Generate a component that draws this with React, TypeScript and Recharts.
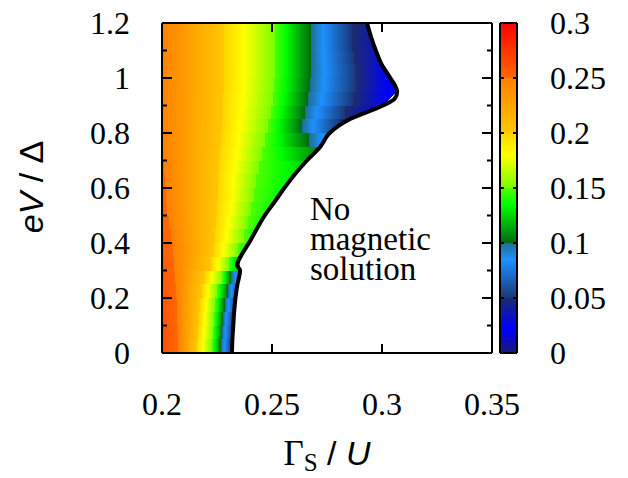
import {
  Area,
  Bar,
  BarChart,
  ComposedChart,
  Line,
  ReferenceLine,
  XAxis,
  YAxis,
} from 'recharts'

// eV/Δ strips of the colour map: strip k runs from rowEdges[k] to rowEdges[k + 1]
const rowEdges = [
  0, 0.05, 0.1, 0.15, 0.2, 0.25, 0.3, 0.35, 0.4, 0.45, 0.5, 0.55, 0.6, 0.65,
  0.7, 0.75, 0.8, 0.85, 0.9, 0.95, 1, 1.05, 1.1, 1.15, 1.2,
]

// per strip (bottom to top): value at Γ=0.2, Γ where a level is crossed, value at the boundary
const rowLeftValue = [
  0.262, 0.262, 0.261, 0.26, 0.259, 0.258, 0.257, 0.256, 0.255, 0.254, 0.253,
  0.252, 0.251, 0.2505, 0.2502, 0.2501, 0.249, 0.249, 0.249, 0.249, 0.249,
  0.249, 0.249, 0.249,
]
const rowCross25 = [
  0.2073, 0.2073, 0.207, 0.2068, 0.2064, 0.206, 0.2055, 0.205, 0.2041, 0.2032,
  0.2023, 0.2018, 0.2014, 0.2009, 0.2005, 0.2002, null, null, null, null, null,
  null, null, null,
]
const rowCross20 = [
  0.2159, 0.2164, 0.2168, 0.2173, 0.2182, 0.2195, 0.2223, 0.2236, 0.2241,
  0.2245, 0.225, 0.2255, 0.2255, 0.2259, 0.2264, 0.2268, 0.2273, 0.2277, 0.2277,
  0.2282, 0.2282, 0.2282, 0.2282, 0.2282,
]
const rowCross15 = [
  0.2227, 0.2232, 0.2236, 0.2241, 0.225, 0.2273, 0.2305, 0.2345, 0.2373,
  0.2391, 0.2405, 0.2418, 0.2427, 0.2441, 0.2455, 0.2468, 0.2482, 0.2495,
  0.2505, 0.2509, 0.2514, 0.2514, 0.2514, 0.2514,
]
const rowCross10 = [
  0.2268, 0.2273, 0.2277, 0.2286, 0.23, 0.2314, null, null, null, null, null,
  null, null, null, null, 0.2668, 0.2636, 0.265, 0.2664, 0.2673, 0.2677, 0.2677,
  0.2677, 0.2677,
]
const rowCross05 = [
  null, null, null, null, null, null, null, null, null, null, null, null, null,
  null, null, null, 0.2809, 0.2832, 0.2868, 0.2882, 0.2882, 0.2873, 0.2864,
  0.2864,
]
const rowEdgeValue = [
  0.05, 0.05, 0.05, 0.055, 0.06, 0.07, 0.11, 0.135, 0.14, 0.138, 0.136, 0.134,
  0.13, 0.122, 0.104, 0.075, 0.04, 0.025, 0.015, 0.015, 0.02, 0.03, 0.035, 0.04,
]

// edge of the magnetic solution
const boundaryY = [
  0, 0.05, 0.1, 0.15, 0.2, 0.25, 0.3, 0.32, 0.35, 0.4, 0.45, 0.5, 0.55, 0.6,
  0.65, 0.7, 0.75, 0.8, 0.85, 0.9, 0.925, 0.95, 0.975, 1, 1.05, 1.1, 1.15, 1.2,
]
const boundaryX = [
  0.2318, 0.232, 0.2324, 0.2328, 0.2334, 0.2343, 0.2355, 0.2341, 0.2357,
  0.2395, 0.243, 0.2467, 0.2512, 0.2556, 0.2604, 0.2659, 0.272, 0.2762, 0.2853,
  0.3004, 0.3058, 0.3069, 0.3058, 0.3038, 0.2998, 0.2972, 0.295, 0.2932,
]

const xTicks = [0.2, 0.25, 0.3, 0.35]
const xInnerTicks = [0.25, 0.3]
const yTicks = [0, 0.2, 0.4, 0.6, 0.8, 1, 1.2]
const yInnerTicks = [0.1, 0.2, 0.3, 0.4, 0.5, 0.6, 0.7, 0.8, 0.9, 1, 1.1]
const cbTicks = [0, 0.05, 0.1, 0.15, 0.2, 0.25, 0.3]
const cbInnerTicks = [0.05, 0.1, 0.15, 0.2, 0.25]
const cbSegments = [0.05, 0.05, 0.05, 0.05, 0.05, 0.05]

// palette, one piece per 0.05 band
const COLORMAP: [number, string][][] = [
  [[0, '#1a1a78'], [0.022, '#0000ff'], [0.05, '#1c2c6c']],
  [[0.05, '#18387a'], [0.085, '#1e90ff'], [0.1, '#1f6f8f']],
  [[0.1, '#006a10'], [0.135, '#00ff00'], [0.15, '#50ff00']],
  [[0.15, '#78ff00'], [0.18, '#ffff00'], [0.2, '#ffd400']],
  [[0.2, '#ffc800'], [0.25, '#ff8000']],
  [[0.25, '#ff6800'], [0.3, '#ff0000']],
]

const SERIF = '"Liberation Serif", "Times New Roman", Times, "DejaVu Serif", serif'
const SANS = '"Liberation Sans", Arial, "DejaVu Sans", sans-serif'
const FRAME = { stroke: '#000', strokeWidth: 2 }

function hexRgb(h: string) {
  return [1, 3, 5].map((i) => parseInt(h.slice(i, i + 2), 16))
}

function segColor(s: number, v: number): string {
  const st = COLORMAP[s]
  for (let i = 0; i < st.length - 1; i++) {
    const [va, ca] = st[i]
    const [vb, cb] = st[i + 1]
    if (v <= vb || i === st.length - 2) {
      const t = Math.max(0, Math.min(1, (v - va) / (vb - va)))
      const a = hexRgb(ca)
      const b = hexRgb(cb)
      const c = a.map((x, j) => Math.round(x + (b[j] - x) * t))
      return `rgb(${c[0]},${c[1]},${c[2]})`
    }
  }
  return st[0][1]
}

function boundaryAt(y: number) {
  return boundaryX[boundaryY.findIndex((v) => Math.abs(v - y) < 1e-6)]
}

function rowStops(k: number) {
  const xmax = Math.max(boundaryAt(rowEdges[k]), boundaryAt(rowEdges[k + 1]))
  const off = (x: number) => Math.max(0, Math.min(1, (x - 0.2) / (xmax - 0.2)))
  const anchors: [number, number][] = [[0.2, rowLeftValue[k]]]
  const crossings: [(number | null)[], number][] = [
    [rowCross25, 0.25],
    [rowCross20, 0.2],
    [rowCross15, 0.15],
    [rowCross10, 0.1],
    [rowCross05, 0.05],
  ]
  crossings.forEach(([arr, level]) => {
    const x = arr[k]
    if (x != null) anchors.push([x, level])
  })
  anchors.push([xmax, rowEdgeValue[k]])

  const stops: { o: number; c: string }[] = []
  for (let i = 0; i < anchors.length - 1; i++) {
    const [xa, va] = anchors[i]
    const [xb, vb] = anchors[i + 1]
    const s = Math.min(5, Math.floor((va + vb) / 2 / 0.05))
    stops.push({ o: off(xa), c: segColor(s, va) })
    COLORMAP[s].forEach(([v, c]) => {
      if (v < va && v > vb) {
        stops.push({ o: off(xa + ((va - v) / (va - vb)) * (xb - xa)), c })
      }
    })
    stops.push({ o: off(xb), c: segColor(s, vb) })
  }
  return stops
}

const chartData = boundaryY.map((y, i) => {
  const point: Record<string, number | null> = { y, b: boundaryX[i] }
  for (let k = 0; k < rowEdges.length - 1; k++) {
    const onEdge =
      Math.abs(y - rowEdges[k]) < 1e-6 || Math.abs(y - rowEdges[k + 1]) < 1e-6
    point[`r${k}`] = onEdge ? boundaryX[i] : null
  }
  return point
})

const colorbarData = [
  cbSegments.reduce<Record<string, number | string>>(
    (acc, v, i) => ({ ...acc, [`s${i}`]: v }),
    { name: 'cb' }
  ),
]

interface TickProps {
  x?: number | string
  y?: number | string
  payload?: { value: number }
}

const isMajor = (v: number) => Math.round(v * 10) % 2 === 0

function LeftInnerTick({ x, y, payload }: TickProps) {
  const len = payload && isMajor(payload.value) ? 10 : 5
  return <line x1={Number(x)} x2={Number(x) + len} y1={Number(y)} y2={Number(y)} {...FRAME} />
}

function RightInnerTick({ x, y, payload }: TickProps) {
  const len = payload && isMajor(payload.value) ? 10 : 5
  return <line x1={Number(x)} x2={Number(x) - len} y1={Number(y)} y2={Number(y)} {...FRAME} />
}

function TopInnerTick({ x, y }: TickProps) {
  return <line x1={Number(x)} x2={Number(x)} y1={Number(y)} y2={Number(y) + 9} {...FRAME} />
}

function BottomInnerTick({ x, y }: TickProps) {
  return <line x1={Number(x)} x2={Number(x)} y1={Number(y)} y2={Number(y) - 9} {...FRAME} />
}

function CbLeftTick({ x, y }: TickProps) {
  return <line x1={Number(x)} x2={Number(x) + 4} y1={Number(y)} y2={Number(y)} {...FRAME} />
}

function CbRightTick({ x, y }: TickProps) {
  return <line x1={Number(x)} x2={Number(x) - 4} y1={Number(y)} y2={Number(y)} {...FRAME} />
}

const tickFont = { fill: '#000', fontSize: 32, fontFamily: SERIF }
const layer = { position: 'absolute' as const, left: 0, top: 0 }

export default function App() {
  const rows = rowEdges.slice(0, -1).map((_, k) => k)
  return (
    <div style={{ position: 'absolute', left: 0, top: 0, width: 628, height: 478, background: '#fff' }}>
      <style>
        {`.recharts-area-area { shape-rendering: crispEdges; } .recharts-cartesian-axis-tick-value, .serif { font-family: ${SERIF}; }`}
      </style>
      <div style={layer}>
        <ComposedChart
          width={628}
          height={478}
          data={chartData}
          layout='vertical'
          margin={{ top: 23, right: 136, bottom: 65, left: 0 }}
        >
          <defs>
            {rows.map((k) => (
              <linearGradient key={k} id={`row${k}`} x1='0' y1='0' x2='1' y2='0'>
                {rowStops(k).map((s, i) => (
                  <stop key={i} offset={s.o} stopColor={s.c} />
                ))}
              </linearGradient>
            ))}
          </defs>
          {rows.map((k) => (
            <Area
              key={k}
              dataKey={`r${k}`}
              type='linear'
              connectNulls
              stroke='none'
              fill={`url(#row${k})`}
              fillOpacity={1}
              dot={false}
              activeDot={false}
              isAnimationActive={false}
            />
          ))}
          <Line
            dataKey='b'
            type='monotone'
            stroke='#000'
            strokeWidth={4}
            strokeLinejoin='round'
            dot={false}
            activeDot={false}
            isAnimationActive={false}
          />
          <XAxis
            type='number'
            domain={[0.2, 0.35]}
            ticks={xTicks}
            allowDataOverflow
            tickLine={false}
            axisLine={FRAME}
            tickSize={0}
            tickMargin={39}
            height={60}
            tick={tickFont}
          />
          <XAxis
            xAxisId='xb'
            type='number'
            domain={[0.2, 0.35]}
            ticks={xInnerTicks}
            allowDataOverflow
            mirror
            tickLine={false}
            axisLine={false}
            tickSize={0}
            tickMargin={0}
            tick={BottomInnerTick}
          />
          <XAxis
            xAxisId='xt'
            orientation='top'
            type='number'
            domain={[0.2, 0.35]}
            ticks={xInnerTicks}
            allowDataOverflow
            mirror
            tickLine={false}
            axisLine={FRAME}
            tickSize={0}
            tickMargin={0}
            tick={TopInnerTick}
          />
          <YAxis
            type='number'
            dataKey='y'
            domain={[0, 1.2]}
            reversed
            ticks={yTicks}
            allowDataOverflow
            width={162}
            tickLine={false}
            axisLine={FRAME}
            tickSize={0}
            tickMargin={32}
            tick={tickFont}
          />
          <YAxis
            yAxisId='yl'
            type='number'
            dataKey='y'
            domain={[0, 1.2]}
            reversed
            ticks={yInnerTicks}
            allowDataOverflow
            mirror
            tickLine={false}
            axisLine={false}
            tickSize={0}
            tickMargin={0}
            tick={LeftInnerTick}
          />
          <YAxis
            yAxisId='yr'
            orientation='right'
            type='number'
            dataKey='y'
            domain={[0, 1.2]}
            reversed
            ticks={yInnerTicks}
            allowDataOverflow
            mirror
            tickLine={false}
            axisLine={FRAME}
            tickSize={0}
            tickMargin={0}
            tick={RightInnerTick}
          />
        </ComposedChart>
      </div>

      <div style={layer}>
        <BarChart
          width={628}
          height={478}
          data={colorbarData}
          barCategoryGap={0}
          barGap={0}
          margin={{ top: 23, right: 0, bottom: 125, left: 500 }}
        >
          <defs>
            {COLORMAP.map((seg, s) => (
              <linearGradient key={s} id={`cb${s}`} x1='0' y1='0' x2='0' y2='1'>
                {[...seg].reverse().map(([v, c], i) => (
                  <stop key={i} offset={(0.05 * (s + 1) - v) / 0.05} stopColor={c} />
                ))}
              </linearGradient>
            ))}
          </defs>
          <XAxis dataKey='name' hide />
          {cbSegments.map((_, i) => (
            <Bar
              key={i}
              dataKey={`s${i}`}
              stackId='cb'
              yAxisId='cb'
              fill={`url(#cb${i})`}
              isAnimationActive={false}
            />
          ))}
          <ReferenceLine y={0} yAxisId='cb' stroke='#000' strokeWidth={2} />
          <ReferenceLine y={0.3} yAxisId='cb' stroke='#000' strokeWidth={2} />
          <YAxis
            yAxisId='cb'
            orientation='right'
            type='number'
            domain={[0, 0.3]}
            ticks={cbTicks}
            allowDataOverflow
            width={111}
            tickLine={false}
            axisLine={FRAME}
            tickSize={0}
            tickMargin={33}
            tick={tickFont}
          />
          <YAxis
            yAxisId='cbl'
            type='number'
            domain={[0, 0.3]}
            ticks={cbInnerTicks}
            allowDataOverflow
            mirror
            tickLine={false}
            axisLine={FRAME}
            tickSize={0}
            tickMargin={0}
            tick={CbLeftTick}
          />
          <YAxis
            yAxisId='cbr'
            orientation='right'
            type='number'
            domain={[0, 0.3]}
            ticks={cbInnerTicks}
            allowDataOverflow
            mirror
            tickLine={false}
            axisLine={false}
            tickSize={0}
            tickMargin={0}
            tick={CbRightTick}
          />
        </BarChart>
      </div>

      <svg width={628} height={478} style={{ ...layer, pointerEvents: 'none' }}>
        <text
          x={43}
          y={187}
          transform='rotate(-90 43 187)'
          textAnchor='middle'
          fontFamily={SANS}
          fontSize={34}
          fill='#000'
        >
          <tspan fontStyle='italic'>eV</tspan>
          <tspan> / Δ</tspan>
        </text>
        <text x={327} y={465} textAnchor='middle' fill='#000'>
          <tspan className='serif' fontSize={35}>Γ</tspan>
          <tspan className='serif' fontSize={25} dy={6}>S</tspan>
          <tspan fontFamily={SANS} fontSize={34} dy={-6}> / </tspan>
          <tspan fontFamily={SANS} fontSize={34} fontStyle='italic'>U</tspan>
        </text>
        <text className='serif' fontSize={33} fill='#000'>
          <tspan x={310} y={220}>No</tspan>
          <tspan x={310} y={250}>magnetic</tspan>
          <tspan x={310} y={280}>solution</tspan>
        </text>
      </svg>
    </div>
  )
}
